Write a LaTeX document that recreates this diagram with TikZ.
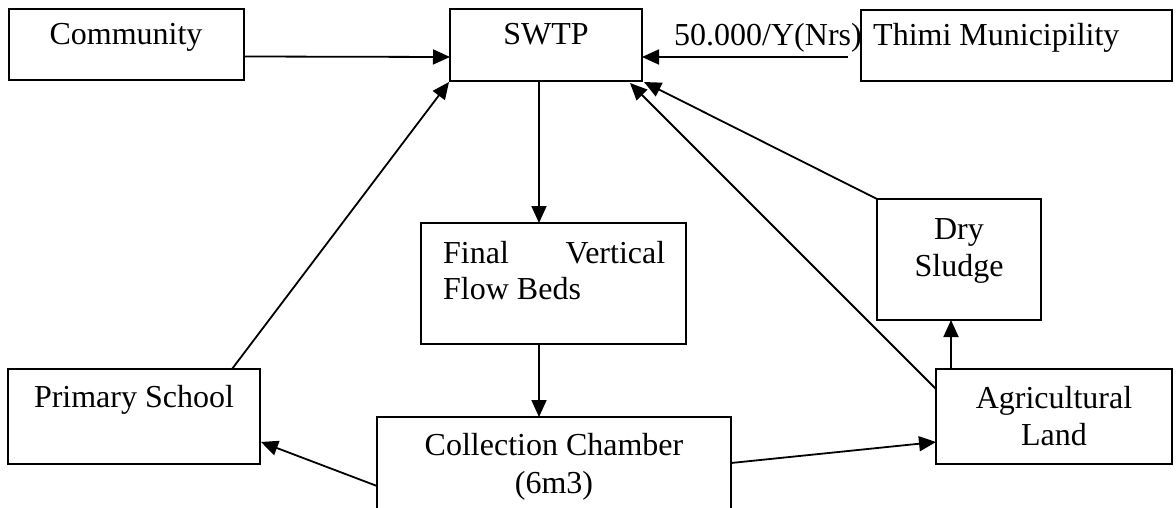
\documentclass[tikz,border=0pt]{standalone}
\usepackage{fontspec}
\setmainfont{Liberation Serif}
\usetikzlibrary{arrows.meta}
\begin{document}
\begin{tikzpicture}[
  x=1pt, y=-1pt,
  box/.style={draw, line width=1.8pt, inner sep=0pt, outer sep=0pt, anchor=north west},
  lbl/.style={anchor=base, inner sep=0pt, font=\fontsize{32}{36}\selectfont},
  arr/.style={line width=1.8pt, -{Triangle[length=17pt,width=15pt]}}
]
\useasboundingbox (0,0) rectangle (1176,508);
\clip (0,0) rectangle (1176,508);

% boxes
\node[box, minimum width=235pt, minimum height=71pt]  (comm)  at (9,9)     {};
\node[box, minimum width=192pt, minimum height=72pt]  (swtp)  at (450,9)   {};
\node[box, minimum width=311pt, minimum height=71pt]  (thimi) at (861,10)  {};
\node[box, minimum width=265pt, minimum height=121pt] (final) at (421,223) {};
\node[box, minimum width=354pt, minimum height=98pt]  (coll)  at (377,417) {};
\node[box, minimum width=252pt, minimum height=95pt]  (prim)  at (8,369)   {};
\node[box, minimum width=164pt, minimum height=121pt] (dry)   at (877,199) {};
\node[box, minimum width=236pt, minimum height=95pt]  (agri)  at (936,369) {};

% texts
\node[lbl] (tcomm) at (126,45) {Community};
\node[lbl] (tswtp) at (546,45) {SWTP};
\node[lbl, anchor=base west] (tthimi) at (873,46) {Thimi Municipility};
\node[lbl] (tpay) at (768,46) {50.000/Y(Nrs)};
\node[lbl, anchor=base west] (tfin1) at (443,263) {\makebox[222pt][s]{Final Vertical}};
\node[lbl, anchor=base west] (tfin2) at (443,299) {Flow Beds};
\node[lbl] (tcoll1) at (554,455) {Collection Chamber};
\node[lbl] (tcoll2) at (554,493) {(6m3)};
\node[lbl] (tprim) at (134,407) {Primary School};
\node[lbl] (tdry1) at (959,240) {Dry};
\node[lbl] (tdry2) at (959,276) {Sludge};
\node[lbl] (tagri1) at (1054,408) {Agricultural};
\node[lbl] (tagri2) at (1054,445) {Land};

% connectors
\draw[arr] ([yshift=-12pt]comm.east) -- ([yshift=-12pt]swtp.west);
\draw[arr] ([xshift=-13pt,yshift=-11.5pt]thimi.west) -- ([yshift=-12pt]swtp.east);
\draw[arr] ([xshift=-7pt]swtp.south) -- ([xshift=-14.5pt]final.north);
\draw[arr] ([xshift=-14.5pt]final.south) -- ([xshift=-15pt]coll.north);
\draw[arr] ([xshift=98pt]prim.north) -- ([xshift=-1pt,yshift=-1pt]swtp.south west);
\draw[arr] ([yshift=-20pt]coll.west) -- ([xshift=1pt,yshift=-25.5pt]prim.east);
\draw[arr] ([yshift=3pt]coll.east) -- ([yshift=-25.5pt]agri.west);
\draw[arr] ([xshift=15pt]agri.north west) -- ([xshift=74pt]dry.south west);
\draw[arr] ([yshift=-20pt]agri.north west) -- ([xshift=-12pt,yshift=-2pt]swtp.south east);
\draw[arr] (dry.north west) -- ([xshift=2pt,yshift=-1pt]swtp.south east);
\end{tikzpicture}
\end{document}
